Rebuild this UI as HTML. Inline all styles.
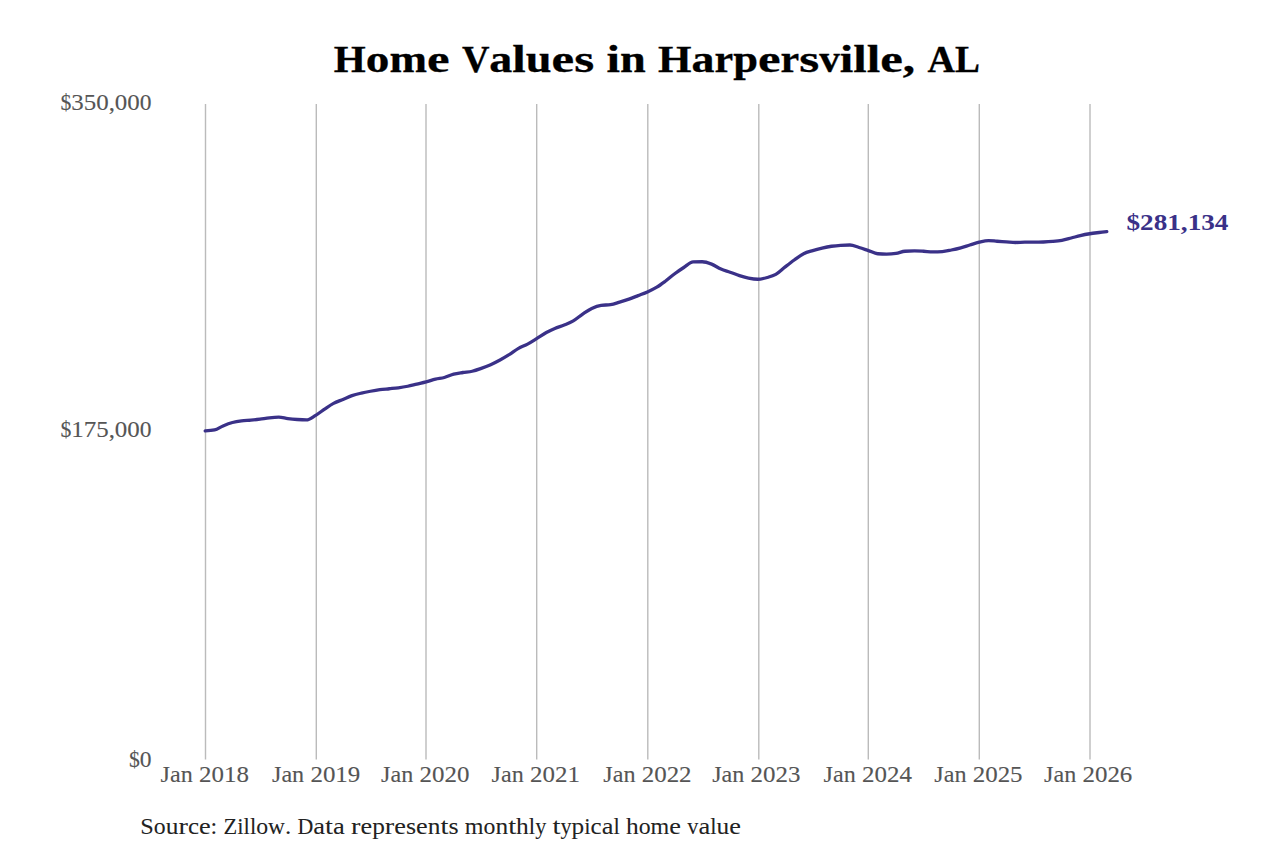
<!DOCTYPE html>
<html><head><meta charset="utf-8"><style>
html,body{margin:0;padding:0;background:#fff;width:1280px;height:853px;overflow:hidden}
svg{display:block;font-family:"Liberation Serif",serif}
.grid line{stroke:#bbb;stroke-width:1.4}
.lab{fill:#555;font-size:23.5px;stroke:#555;stroke-width:0.12px}
.src{fill:#222;font-size:23px;stroke:#222;stroke-width:0.05px}
.title{fill:#000;font-size:38.4px;font-weight:bold;stroke:#000;stroke-width:0.3px}
.val{fill:#3a3188;font-size:22.5px;font-weight:bold;stroke:#3a3188;stroke-width:0.0px}
</style></head><body>
<svg width="1280" height="853" viewBox="0 0 1280 853">
<g class="grid">
<line x1="205.50" y1="104" x2="205.50" y2="759.5"/>
<line x1="316.30" y1="104" x2="316.30" y2="759.5"/>
<line x1="426.00" y1="104" x2="426.00" y2="759.5"/>
<line x1="536.70" y1="104" x2="536.70" y2="759.5"/>
<line x1="647.80" y1="104" x2="647.80" y2="759.5"/>
<line x1="758.80" y1="104" x2="758.80" y2="759.5"/>
<line x1="868.30" y1="104" x2="868.30" y2="759.5"/>
<line x1="979.30" y1="104" x2="979.30" y2="759.5"/>
<line x1="1090.00" y1="104" x2="1090.00" y2="759.5"/>
</g>
<path d="M205.20,430.90 C208.33,430.73 211.45,430.57 214.58,429.90 C217.41,429.30 220.23,427.09 223.06,425.90 C226.19,424.59 229.31,423.35 232.44,422.50 C235.47,421.67 238.49,421.20 241.52,420.80 C244.65,420.39 247.78,420.39 250.91,420.10 C253.94,419.82 256.96,419.48 259.99,419.10 C263.12,418.71 266.24,418.12 269.37,417.80 C272.50,417.48 275.62,417.20 278.75,417.20 C281.78,417.20 284.81,418.22 287.84,418.60 C290.97,418.99 294.09,419.28 297.22,419.50 C300.25,419.71 303.27,419.90 306.30,419.90 C309.43,419.90 312.55,417.15 315.68,415.30 C318.81,413.45 321.94,410.88 325.07,408.80 C327.89,406.93 330.72,404.92 333.54,403.40 C336.67,401.72 339.80,400.72 342.93,399.40 C345.96,398.12 348.98,396.64 352.01,395.60 C355.14,394.53 358.26,393.83 361.39,393.10 C364.42,392.39 367.44,391.81 370.47,391.25 C373.60,390.67 376.73,390.12 379.86,389.70 C382.99,389.28 386.11,389.07 389.24,388.75 C392.27,388.44 395.29,388.21 398.32,387.80 C401.45,387.38 404.58,386.88 407.71,386.25 C410.74,385.64 413.76,384.81 416.79,384.10 C419.92,383.36 423.04,382.73 426.17,381.90 C429.30,381.07 432.42,379.85 435.55,379.10 C438.48,378.40 441.40,378.29 444.33,377.50 C447.46,376.66 450.59,374.94 453.72,374.10 C456.75,373.29 459.77,372.97 462.80,372.50 C465.93,372.02 469.05,371.95 472.18,371.25 C475.21,370.57 478.23,369.47 481.26,368.40 C484.39,367.29 487.52,366.10 490.65,364.70 C493.78,363.30 496.90,361.70 500.03,360.00 C503.06,358.36 506.08,356.60 509.11,354.70 C512.24,352.74 515.37,350.19 518.50,348.40 C521.53,346.67 524.55,345.73 527.58,344.10 C530.71,342.41 533.83,340.33 536.96,338.40 C540.09,336.47 543.21,334.23 546.34,332.50 C549.17,330.94 551.99,329.60 554.82,328.40 C557.95,327.07 561.07,326.27 564.20,325.00 C567.23,323.77 570.25,322.67 573.28,320.90 C576.41,319.07 579.54,316.21 582.67,314.10 C585.70,312.06 588.72,309.86 591.75,308.40 C594.88,306.89 598.00,305.70 601.13,305.30 C604.26,304.90 607.39,305.10 610.52,304.70 C613.55,304.31 616.57,303.12 619.60,302.20 C622.73,301.25 625.85,300.22 628.98,299.10 C632.01,298.02 635.03,296.78 638.06,295.60 C641.19,294.38 644.32,293.30 647.45,291.90 C650.58,290.50 653.70,289.10 656.83,287.20 C659.66,285.49 662.48,283.36 665.31,281.25 C668.44,278.91 671.56,276.07 674.69,273.75 C677.72,271.50 680.74,269.45 683.77,267.50 C686.90,265.49 690.03,262.00 693.16,261.90 C696.19,261.80 699.21,261.75 702.24,261.75 C705.37,261.75 708.49,262.88 711.62,264.10 C714.75,265.33 717.87,267.74 721.00,269.10 C724.03,270.42 727.06,271.13 730.09,272.20 C733.22,273.30 736.34,274.61 739.47,275.60 C742.50,276.56 745.52,277.49 748.55,278.10 C751.68,278.73 754.80,279.25 757.93,279.25 C761.06,279.25 764.19,278.38 767.32,277.50 C770.14,276.71 772.97,276.01 775.79,274.40 C778.92,272.61 782.05,269.34 785.18,266.90 C788.21,264.54 791.23,262.16 794.26,260.00 C797.39,257.77 800.51,255.33 803.64,253.75 C806.67,252.22 809.69,251.53 812.72,250.60 C815.85,249.64 818.98,248.83 822.11,248.10 C825.24,247.38 828.36,246.72 831.49,246.25 C834.52,245.80 837.54,245.49 840.57,245.30 C843.70,245.10 846.83,245.00 849.96,245.00 C852.99,245.00 856.01,246.58 859.04,247.50 C862.17,248.45 865.29,249.56 868.42,250.60 C871.55,251.64 874.67,253.50 877.80,253.75 C880.73,253.98 883.65,254.10 886.58,254.10 C889.71,254.10 892.84,253.87 895.97,253.40 C899.00,252.95 902.02,251.48 905.05,251.25 C908.18,251.02 911.30,250.90 914.43,250.90 C917.46,250.90 920.48,251.09 923.51,251.25 C926.64,251.42 929.77,251.90 932.90,251.90 C936.03,251.90 939.15,251.80 942.28,251.60 C945.31,251.41 948.33,250.62 951.36,250.00 C954.49,249.36 957.62,248.65 960.75,247.80 C963.78,246.98 966.80,245.92 969.83,245.00 C972.96,244.05 976.08,242.93 979.21,242.20 C982.34,241.47 985.46,240.60 988.59,240.60 C991.42,240.60 994.24,241.04 997.07,241.25 C1000.20,241.48 1003.32,241.69 1006.45,241.90 C1009.48,242.10 1012.50,242.50 1015.53,242.50 C1018.66,242.50 1021.79,242.20 1024.92,242.20 C1027.95,242.20 1030.97,242.20 1034.00,242.20 C1037.13,242.20 1040.25,242.13 1043.38,242.00 C1046.51,241.87 1049.64,241.69 1052.77,241.40 C1055.80,241.12 1058.82,240.85 1061.85,240.30 C1064.98,239.73 1068.10,238.80 1071.23,238.00 C1074.26,237.23 1077.28,236.30 1080.31,235.60 C1083.44,234.88 1086.57,234.27 1089.70,233.75 C1092.83,233.23 1095.95,232.89 1099.08,232.50 C1101.65,232.18 1104.23,231.89 1106.80,231.60" fill="none" stroke="#3a3188" stroke-width="3.3" stroke-linecap="round" stroke-linejoin="round"/>
<text class="title" x="333.84" y="72.25" textLength="31.99" lengthAdjust="spacingAndGlyphs">H</text>
<text class="title" x="365.83" y="72.25" textLength="23.64" lengthAdjust="spacingAndGlyphs">o</text>
<text class="title" x="389.48" y="72.25" textLength="37.51" lengthAdjust="spacingAndGlyphs">m</text>
<text class="title" x="426.99" y="72.25" textLength="22.55" lengthAdjust="spacingAndGlyphs">e</text>
<text class="title" x="461.88" y="72.25" textLength="27.50" lengthAdjust="spacingAndGlyphs">V</text>
<text class="title" x="489.39" y="72.25" textLength="22.97" lengthAdjust="spacingAndGlyphs">a</text>
<text class="title" x="512.36" y="72.25" textLength="13.47" lengthAdjust="spacingAndGlyphs">l</text>
<text class="title" x="525.82" y="72.25" textLength="25.77" lengthAdjust="spacingAndGlyphs">u</text>
<text class="title" x="551.60" y="72.25" textLength="22.55" lengthAdjust="spacingAndGlyphs">e</text>
<text class="title" x="574.15" y="72.25" textLength="19.96" lengthAdjust="spacingAndGlyphs">s</text>
<text class="title" x="606.45" y="72.25" textLength="13.47" lengthAdjust="spacingAndGlyphs">i</text>
<text class="title" x="619.92" y="72.25" textLength="25.77" lengthAdjust="spacingAndGlyphs">n</text>
<text class="title" x="658.04" y="72.25" textLength="33.49" lengthAdjust="spacingAndGlyphs">H</text>
<text class="title" x="691.53" y="72.25" textLength="22.97" lengthAdjust="spacingAndGlyphs">a</text>
<text class="title" x="714.50" y="72.25" textLength="18.68" lengthAdjust="spacingAndGlyphs">r</text>
<text class="title" x="733.18" y="72.25" textLength="24.79" lengthAdjust="spacingAndGlyphs">p</text>
<text class="title" x="757.96" y="72.25" textLength="22.55" lengthAdjust="spacingAndGlyphs">e</text>
<text class="title" x="780.52" y="72.25" textLength="18.68" lengthAdjust="spacingAndGlyphs">r</text>
<text class="title" x="799.19" y="72.25" textLength="19.96" lengthAdjust="spacingAndGlyphs">s</text>
<text class="title" x="819.15" y="72.25" textLength="20.60" lengthAdjust="spacingAndGlyphs">v</text>
<text class="title" x="839.75" y="72.25" textLength="13.47" lengthAdjust="spacingAndGlyphs">i</text>
<text class="title" x="853.22" y="72.25" textLength="13.47" lengthAdjust="spacingAndGlyphs">l</text>
<text class="title" x="866.68" y="72.25" textLength="13.47" lengthAdjust="spacingAndGlyphs">l</text>
<text class="title" x="880.15" y="72.25" textLength="22.55" lengthAdjust="spacingAndGlyphs">e</text>
<text class="title" x="902.71" y="72.25" textLength="12.34" lengthAdjust="spacingAndGlyphs">,</text>
<text class="title" x="927.39" y="72.25" textLength="27.50" lengthAdjust="spacingAndGlyphs">A</text>
<text class="title" x="954.89" y="72.25" textLength="24.93" lengthAdjust="spacingAndGlyphs">L</text>
<text class="lab" x="60.38" y="109.90" textLength="10.87" lengthAdjust="spacingAndGlyphs">$</text>
<text class="lab" x="71.25" y="109.90" textLength="12.47" lengthAdjust="spacingAndGlyphs">3</text>
<text class="lab" x="83.72" y="109.90" textLength="12.47" lengthAdjust="spacingAndGlyphs">5</text>
<text class="lab" x="96.19" y="109.90" textLength="12.47" lengthAdjust="spacingAndGlyphs">0</text>
<text class="lab" x="108.66" y="109.90" textLength="6.23" lengthAdjust="spacingAndGlyphs">,</text>
<text class="lab" x="114.89" y="109.90" textLength="12.47" lengthAdjust="spacingAndGlyphs">0</text>
<text class="lab" x="127.36" y="109.90" textLength="12.47" lengthAdjust="spacingAndGlyphs">0</text>
<text class="lab" x="139.83" y="109.90" textLength="11.77" lengthAdjust="spacingAndGlyphs">0</text>
<text class="lab" x="60.38" y="437.30" textLength="10.87" lengthAdjust="spacingAndGlyphs">$</text>
<text class="lab" x="71.25" y="437.30" textLength="12.47" lengthAdjust="spacingAndGlyphs">1</text>
<text class="lab" x="83.72" y="437.30" textLength="12.47" lengthAdjust="spacingAndGlyphs">7</text>
<text class="lab" x="96.19" y="437.30" textLength="12.47" lengthAdjust="spacingAndGlyphs">5</text>
<text class="lab" x="108.66" y="437.30" textLength="6.23" lengthAdjust="spacingAndGlyphs">,</text>
<text class="lab" x="114.89" y="437.30" textLength="12.47" lengthAdjust="spacingAndGlyphs">0</text>
<text class="lab" x="127.36" y="437.30" textLength="12.47" lengthAdjust="spacingAndGlyphs">0</text>
<text class="lab" x="139.83" y="437.30" textLength="11.77" lengthAdjust="spacingAndGlyphs">0</text>
<text class="lab" x="128.96" y="767.10" textLength="10.87" lengthAdjust="spacingAndGlyphs">$</text>
<text class="lab" x="139.83" y="767.10" textLength="11.77" lengthAdjust="spacingAndGlyphs">0</text>
<text class="lab" x="160.61" y="781.80" textLength="32.17" lengthAdjust="spacingAndGlyphs">Jan</text>
<text class="lab" x="199.01" y="781.80" textLength="49.88" lengthAdjust="spacingAndGlyphs">2018</text>
<text class="lab" x="272.01" y="781.80" textLength="32.17" lengthAdjust="spacingAndGlyphs">Jan</text>
<text class="lab" x="310.41" y="781.80" textLength="49.88" lengthAdjust="spacingAndGlyphs">2019</text>
<text class="lab" x="381.11" y="781.80" textLength="32.17" lengthAdjust="spacingAndGlyphs">Jan</text>
<text class="lab" x="419.51" y="781.80" textLength="49.88" lengthAdjust="spacingAndGlyphs">2020</text>
<text class="lab" x="491.61" y="781.80" textLength="32.17" lengthAdjust="spacingAndGlyphs">Jan</text>
<text class="lab" x="530.01" y="781.80" textLength="49.88" lengthAdjust="spacingAndGlyphs">2021</text>
<text class="lab" x="603.31" y="781.80" textLength="32.17" lengthAdjust="spacingAndGlyphs">Jan</text>
<text class="lab" x="641.71" y="781.80" textLength="49.88" lengthAdjust="spacingAndGlyphs">2022</text>
<text class="lab" x="712.16" y="781.80" textLength="32.17" lengthAdjust="spacingAndGlyphs">Jan</text>
<text class="lab" x="750.56" y="781.80" textLength="49.88" lengthAdjust="spacingAndGlyphs">2023</text>
<text class="lab" x="823.61" y="781.80" textLength="32.17" lengthAdjust="spacingAndGlyphs">Jan</text>
<text class="lab" x="862.01" y="781.80" textLength="49.88" lengthAdjust="spacingAndGlyphs">2024</text>
<text class="lab" x="934.31" y="781.80" textLength="32.17" lengthAdjust="spacingAndGlyphs">Jan</text>
<text class="lab" x="972.71" y="781.80" textLength="49.88" lengthAdjust="spacingAndGlyphs">2025</text>
<text class="lab" x="1044.06" y="781.80" textLength="32.17" lengthAdjust="spacingAndGlyphs">Jan</text>
<text class="lab" x="1082.46" y="781.80" textLength="49.88" lengthAdjust="spacingAndGlyphs">2026</text>
<text class="val" x="1126.46" y="229.80" textLength="13.60" lengthAdjust="spacingAndGlyphs">$</text>
<text class="val" x="1140.07" y="229.80" textLength="13.60" lengthAdjust="spacingAndGlyphs">2</text>
<text class="val" x="1153.67" y="229.80" textLength="13.60" lengthAdjust="spacingAndGlyphs">8</text>
<text class="val" x="1167.27" y="229.80" textLength="13.60" lengthAdjust="spacingAndGlyphs">1</text>
<text class="val" x="1180.87" y="229.80" textLength="6.81" lengthAdjust="spacingAndGlyphs">,</text>
<text class="val" x="1187.68" y="229.80" textLength="13.60" lengthAdjust="spacingAndGlyphs">1</text>
<text class="val" x="1201.28" y="229.80" textLength="13.60" lengthAdjust="spacingAndGlyphs">3</text>
<text class="val" x="1214.89" y="229.80" textLength="13.60" lengthAdjust="spacingAndGlyphs">4</text>
<text class="src" x="140.34" y="834.00" textLength="13.52" lengthAdjust="spacingAndGlyphs">S</text>
<text class="src" x="153.87" y="834.00" textLength="11.88" lengthAdjust="spacingAndGlyphs">o</text>
<text class="src" x="165.75" y="834.00" textLength="12.71" lengthAdjust="spacingAndGlyphs">u</text>
<text class="src" x="178.46" y="834.00" textLength="9.44" lengthAdjust="spacingAndGlyphs">r</text>
<text class="src" x="187.90" y="834.00" textLength="11.06" lengthAdjust="spacingAndGlyphs">c</text>
<text class="src" x="198.95" y="834.00" textLength="11.68" lengthAdjust="spacingAndGlyphs">e</text>
<text class="src" x="210.64" y="834.00" textLength="6.65" lengthAdjust="spacingAndGlyphs">:</text>
<text class="src" x="223.56" y="834.00" textLength="13.72" lengthAdjust="spacingAndGlyphs">Z</text>
<text class="src" x="237.28" y="834.00" textLength="6.31" lengthAdjust="spacingAndGlyphs">i</text>
<text class="src" x="243.59" y="834.00" textLength="6.31" lengthAdjust="spacingAndGlyphs">l</text>
<text class="src" x="249.90" y="834.00" textLength="6.31" lengthAdjust="spacingAndGlyphs">l</text>
<text class="src" x="256.22" y="834.00" textLength="11.88" lengthAdjust="spacingAndGlyphs">o</text>
<text class="src" x="268.10" y="834.00" textLength="16.90" lengthAdjust="spacingAndGlyphs">w</text>
<text class="src" x="285.00" y="834.00" textLength="6.27" lengthAdjust="spacingAndGlyphs">.</text>
<text class="src" x="297.55" y="834.00" textLength="15.83" lengthAdjust="spacingAndGlyphs">D</text>
<text class="src" x="313.38" y="834.00" textLength="11.77" lengthAdjust="spacingAndGlyphs">a</text>
<text class="src" x="325.14" y="834.00" textLength="7.93" lengthAdjust="spacingAndGlyphs">t</text>
<text class="src" x="333.08" y="834.00" textLength="11.77" lengthAdjust="spacingAndGlyphs">a</text>
<text class="src" x="351.12" y="834.00" textLength="9.44" lengthAdjust="spacingAndGlyphs">r</text>
<text class="src" x="360.56" y="834.00" textLength="11.68" lengthAdjust="spacingAndGlyphs">e</text>
<text class="src" x="372.24" y="834.00" textLength="12.64" lengthAdjust="spacingAndGlyphs">p</text>
<text class="src" x="384.88" y="834.00" textLength="9.44" lengthAdjust="spacingAndGlyphs">r</text>
<text class="src" x="394.31" y="834.00" textLength="11.68" lengthAdjust="spacingAndGlyphs">e</text>
<text class="src" x="405.99" y="834.00" textLength="10.13" lengthAdjust="spacingAndGlyphs">s</text>
<text class="src" x="416.12" y="834.00" textLength="11.68" lengthAdjust="spacingAndGlyphs">e</text>
<text class="src" x="427.81" y="834.00" textLength="12.71" lengthAdjust="spacingAndGlyphs">n</text>
<text class="src" x="440.52" y="834.00" textLength="7.93" lengthAdjust="spacingAndGlyphs">t</text>
<text class="src" x="448.45" y="834.00" textLength="10.13" lengthAdjust="spacingAndGlyphs">s</text>
<text class="src" x="464.86" y="834.00" textLength="18.72" lengthAdjust="spacingAndGlyphs">m</text>
<text class="src" x="483.58" y="834.00" textLength="11.88" lengthAdjust="spacingAndGlyphs">o</text>
<text class="src" x="495.46" y="834.00" textLength="12.71" lengthAdjust="spacingAndGlyphs">n</text>
<text class="src" x="508.17" y="834.00" textLength="7.93" lengthAdjust="spacingAndGlyphs">t</text>
<text class="src" x="516.11" y="834.00" textLength="12.71" lengthAdjust="spacingAndGlyphs">h</text>
<text class="src" x="528.82" y="834.00" textLength="6.31" lengthAdjust="spacingAndGlyphs">l</text>
<text class="src" x="535.13" y="834.00" textLength="11.15" lengthAdjust="spacingAndGlyphs">y</text>
<text class="src" x="552.56" y="834.00" textLength="7.93" lengthAdjust="spacingAndGlyphs">t</text>
<text class="src" x="560.49" y="834.00" textLength="11.15" lengthAdjust="spacingAndGlyphs">y</text>
<text class="src" x="571.64" y="834.00" textLength="12.64" lengthAdjust="spacingAndGlyphs">p</text>
<text class="src" x="584.28" y="834.00" textLength="6.31" lengthAdjust="spacingAndGlyphs">i</text>
<text class="src" x="590.59" y="834.00" textLength="11.06" lengthAdjust="spacingAndGlyphs">c</text>
<text class="src" x="601.65" y="834.00" textLength="11.77" lengthAdjust="spacingAndGlyphs">a</text>
<text class="src" x="613.42" y="834.00" textLength="6.31" lengthAdjust="spacingAndGlyphs">l</text>
<text class="src" x="626.01" y="834.00" textLength="12.71" lengthAdjust="spacingAndGlyphs">h</text>
<text class="src" x="638.72" y="834.00" textLength="11.88" lengthAdjust="spacingAndGlyphs">o</text>
<text class="src" x="650.60" y="834.00" textLength="18.72" lengthAdjust="spacingAndGlyphs">m</text>
<text class="src" x="669.32" y="834.00" textLength="11.68" lengthAdjust="spacingAndGlyphs">e</text>
<text class="src" x="687.28" y="834.00" textLength="11.15" lengthAdjust="spacingAndGlyphs">v</text>
<text class="src" x="698.43" y="834.00" textLength="11.77" lengthAdjust="spacingAndGlyphs">a</text>
<text class="src" x="710.20" y="834.00" textLength="6.31" lengthAdjust="spacingAndGlyphs">l</text>
<text class="src" x="716.51" y="834.00" textLength="12.71" lengthAdjust="spacingAndGlyphs">u</text>
<text class="src" x="729.23" y="834.00" textLength="11.68" lengthAdjust="spacingAndGlyphs">e</text>
</svg>
</body></html>
